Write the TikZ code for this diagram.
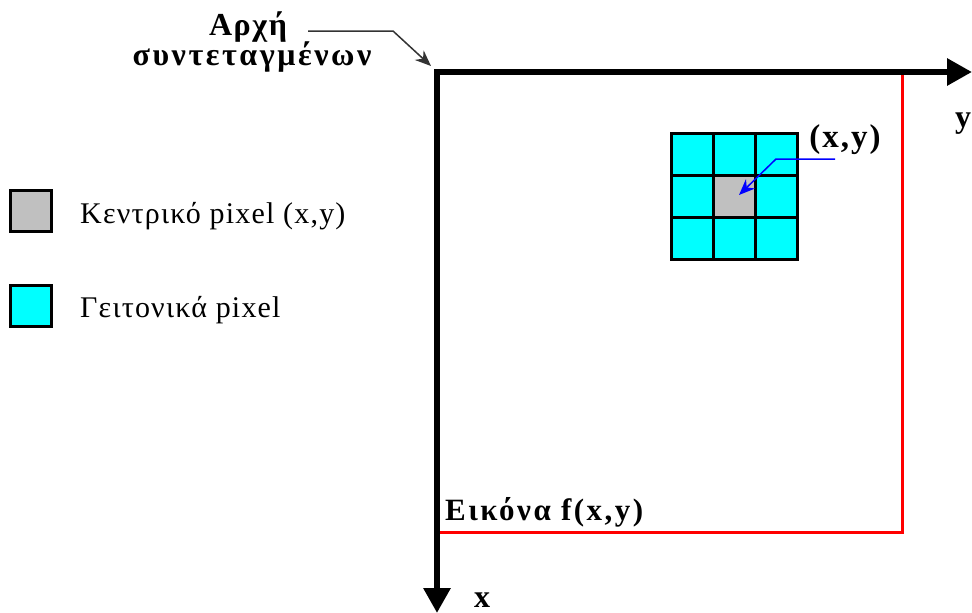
\documentclass[tikz,border=0pt]{standalone}
\usepackage{fontspec}
\setmainfont{Liberation Serif}
\usetikzlibrary{arrows.meta}
\definecolor{pixcyan}{RGB}{0,255,255}
\definecolor{pixgray}{RGB}{192,192,192}
\begin{document}
\begin{tikzpicture}[x=1pt,y=-1pt,
  cell/.style={draw=black,line width=3pt,minimum size=42pt,inner sep=0pt,fill=pixcyan},
  center/.style={cell,fill=pixgray},
  legbox/.style={draw=black,line width=3pt,minimum size=41pt,inner sep=0pt},
  axis/.style={line width=6pt,line join=miter,{Triangle[length=25pt,width=26pt]}-{Triangle[length=25pt,width=26pt]}},
  frame/.style={draw=red,line width=3pt},
  pointer/.style={line width=1.5pt,-{Stealth[length=16pt,width=13pt]}},
  bigb/.style={font=\fontsize{32}{36}\selectfont\bfseries,inner sep=0pt},
  midb/.style={font=\fontsize{31}{35}\selectfont\bfseries\addfontfeatures{LetterSpace=8},inner sep=0pt},
  legt/.style={font=\fontsize{30}{34}\selectfont\addfontfeatures{LetterSpace=4},inner sep=0pt}]
\useasboundingbox[fill=white] (0,0) rectangle (972,613);
% image frame
\coordinate (O) at (437,72);
\coordinate (Ytip) at (972,72);
\coordinate (Xtip) at (437,613);
\coordinate (RT) at (902,72);
\coordinate (RB) at (902,532);
\coordinate (LB) at (437,532);
\draw[frame] (RT) -- (RB) -- (LB);
\draw[axis] (Ytip) -- (O) -- (Xtip);
\node[bigb,anchor=base] (ylab) at (963,127) {y};
\node[bigb,anchor=base] (xlab) at (482,607) {x};
\node[midb,anchor=base west] (img) at (445,520) {Εικόνα f(x,y)};
% origin label
\node[bigb,anchor=base,font=\fontsize{32}{36}\selectfont\bfseries\addfontfeatures{LetterSpace=5}] (arxi) at (248,35) {Αρχή};
\node[bigb,anchor=base,font=\fontsize{32}{36}\selectfont\bfseries\addfontfeatures{LetterSpace=8}] (syn) at (252,65) {συντεταγμένων};
\coordinate (p1) at (308,31);
\coordinate (p2) at (393,31);
\coordinate (p3) at (431,66);
\draw[pointer,draw=black!80] (p1) -- (p2) -- (p3);
% 3x3 neighbourhood
\foreach \i/\yy in {1/154,2/196,3/238}{
  \foreach \j/\xx in {1/692,2/734,3/776}{
    \node[cell] (c\i\j) at (\xx,\yy) {};
  }
}
\node[center] at (c22) {};
\node[bigb,anchor=base,font=\fontsize{33}{37}\selectfont\bfseries\addfontfeatures{LetterSpace=6}] (xy) at (845,147) {(x,y)};
\coordinate (q1) at (835,159);
\coordinate (q2) at (776,159);
\coordinate (q3) at (739,195);
\draw[pointer,blue] (q1) -- (q2) -- (q3);
% legend
\node[legbox,fill=pixgray] (lg1) at (31,211) {};
\node[legbox,fill=pixcyan] (lg2) at (31,306) {};
\node[legt,anchor=base west] (lt1) at (80,223) {Κεντρικό pixel (x,y)};
\node[legt,anchor=base west] (lt2) at (80,317) {Γειτονικά pixel};
\end{tikzpicture}
\end{document}
